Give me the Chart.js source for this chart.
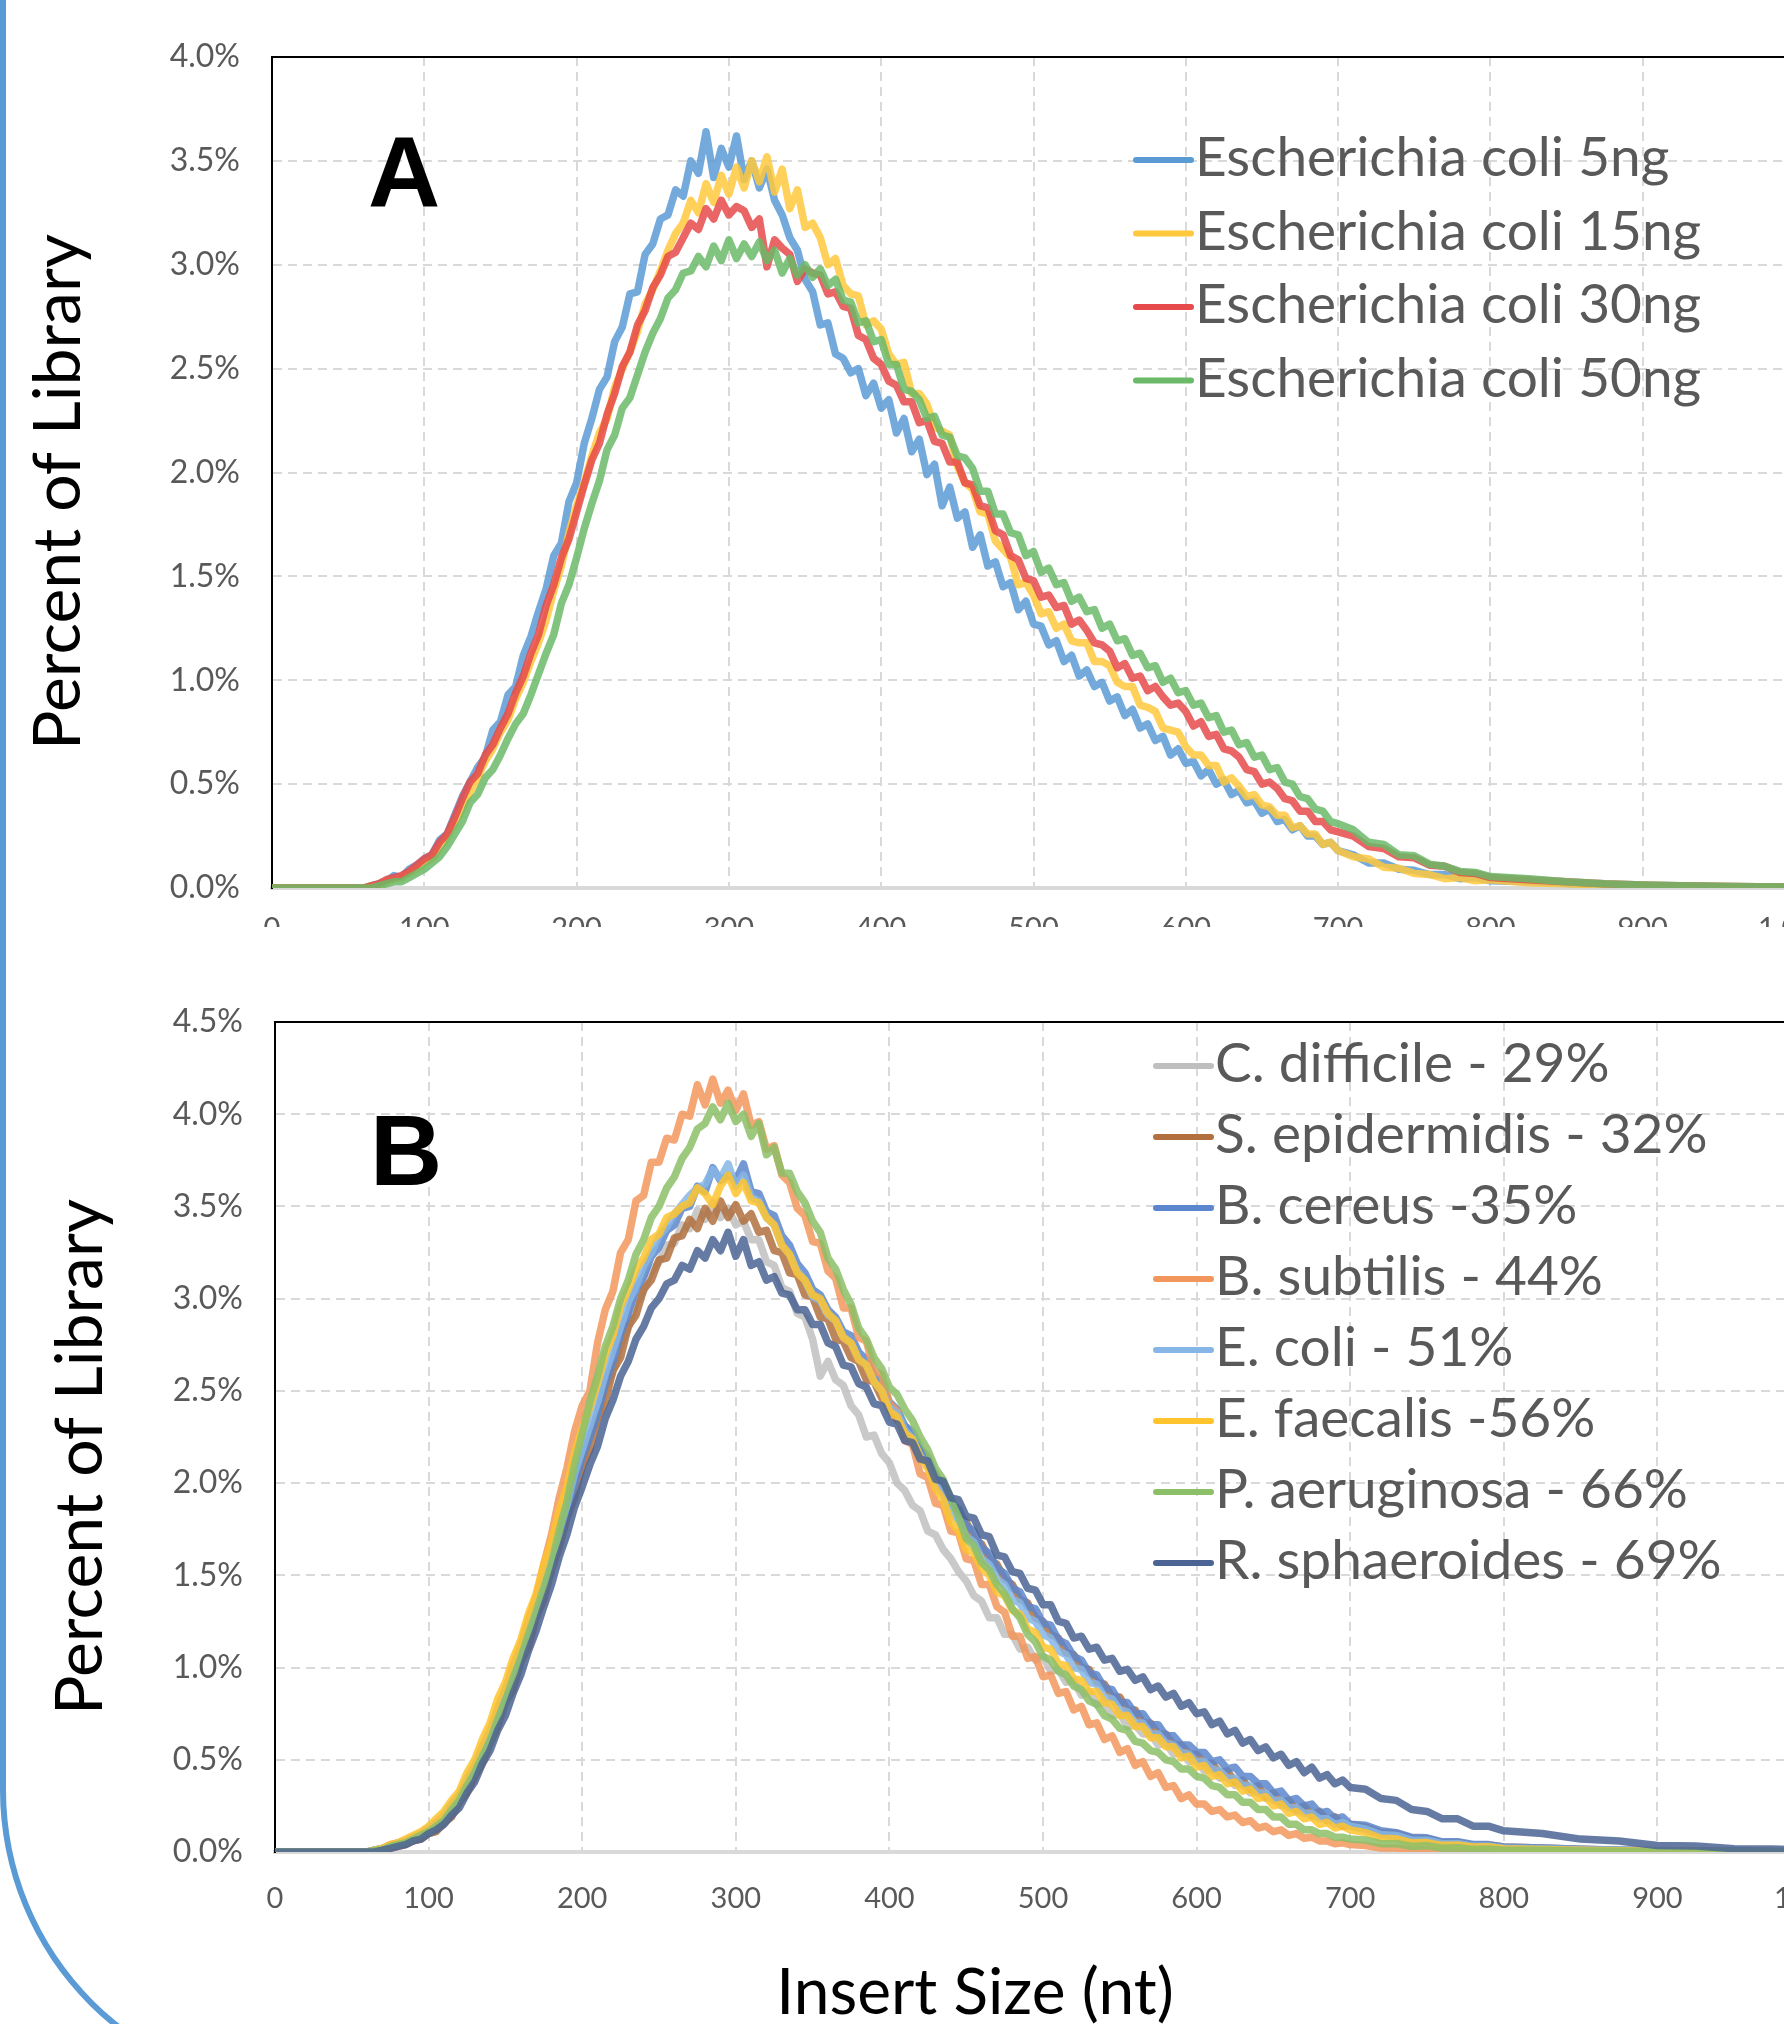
<!DOCTYPE html>
<html>
<head>
<meta charset="utf-8">
<title>Insert size distributions</title>
<script src="https://cdn.jsdelivr.net/npm/chart.js@4.4.1/dist/chart.umd.min.js"></script>
<style>
  html, body { margin: 0; padding: 0; width: 1784px; height: 2024px; overflow: hidden; background: #fff; }
  #frame {
    position: absolute; left: 0; top: -200px; width: 2300px; height: 2294px;
    box-sizing: border-box; border-left: 6px solid #5b9bd5; border-bottom: 6px solid #5b9bd5;
    border-bottom-left-radius: 304px;
  }
  #wrapA { position: absolute; left: 0; top: 0; width: 1900px; height: 927px; overflow: hidden; }
  #chartA { position: absolute; left: 0; top: 0; }
  #chartB { position: absolute; left: 0; top: 940px; }
</style>
</head>
<body>
<div id="frame"></div>
<div id="wrapA"><canvas id="chartA" width="1900" height="1000"></canvas></div>
<canvas id="chartB" width="1900" height="1084"></canvas>

<script>
// ============================================
// Insert size (nt) vs percent of library
// ============================================

// Shared x values (insert size, nt)
const insertSize = [
  0, 55,
  60, 65, 70, 75, 80, 85, 90, 95, 100, 105,
  110, 115, 120, 125, 130, 135, 140, 145, 150, 155,
  160, 165, 170, 175, 180, 185, 190, 195, 200, 205,
  210, 215, 220, 225, 230, 235, 240, 245, 250, 255,
  260, 265, 270, 275, 280, 285, 290, 295, 300, 305,
  310, 315, 320, 325, 330, 335, 340, 345, 350, 355,
  360, 365, 370, 375, 380, 385, 390, 395, 400, 405,
  410, 415, 420, 425, 430, 435, 440, 445, 450, 455,
  460, 465, 470, 475, 480, 485, 490, 495, 500, 505,
  510, 515, 520, 525, 530, 535, 540, 545, 550, 555,
  560, 565, 570, 575, 580, 585, 590, 595, 600, 605,
  610, 615, 620, 625, 630, 635, 640, 645, 650, 655,
  660, 665, 670, 675, 680, 685, 690, 695, 700,
  710, 720, 730, 740, 750, 760, 770, 780, 790, 800,
  825, 850, 875, 900, 925, 950, 975, 1000
];

// ---- Panel A: E. coli input amounts ----
const ecoliLabels = ['Escherichia coli 5ng', 'Escherichia coli 15ng', 'Escherichia coli 30ng', 'Escherichia coli 50ng'];

const coli5ng = [
  0, 0,
  0.00, 0.01, 0.02, 0.03, 0.06, 0.05, 0.09, 0.11, 0.14, 0.16,
  0.23, 0.26, 0.35, 0.44, 0.51, 0.58, 0.63, 0.76, 0.80, 0.93,
  0.97, 1.12, 1.21, 1.33, 1.44, 1.60, 1.66, 1.86, 1.95, 2.14,
  2.26, 2.40, 2.46, 2.63, 2.70, 2.86, 2.87, 3.05, 3.10, 3.22,
  3.24, 3.36, 3.33, 3.50, 3.44, 3.64, 3.42, 3.56, 3.47, 3.62,
  3.41, 3.50, 3.37, 3.46, 3.31, 3.24, 3.13, 3.07, 2.93, 2.87,
  2.71, 2.72, 2.57, 2.55, 2.48, 2.50, 2.37, 2.43, 2.31, 2.35,
  2.19, 2.26, 2.10, 2.16, 1.99, 2.04, 1.84, 1.93, 1.78, 1.81,
  1.64, 1.70, 1.55, 1.57, 1.45, 1.47, 1.34, 1.38, 1.27, 1.26,
  1.17, 1.19, 1.09, 1.12, 1.02, 1.05, 0.97, 0.99, 0.90, 0.92,
  0.83, 0.86, 0.77, 0.79, 0.71, 0.73, 0.64, 0.67, 0.60, 0.61,
  0.54, 0.57, 0.50, 0.52, 0.45, 0.47, 0.41, 0.42, 0.36, 0.38,
  0.32, 0.33, 0.28, 0.30, 0.25, 0.25, 0.21, 0.22, 0.18,
  0.16, 0.12, 0.12, 0.09, 0.085, 0.065, 0.065, 0.045, 0.05, 0.035,
  0.03, 0.022, 0.015, 0.01, 0.008, 0.006, 0.005, 0.004
];

const coli15ng = [
  0, 0,
  0.00, 0.01, 0.01, 0.03, 0.04, 0.05, 0.07, 0.09, 0.12, 0.14,
  0.19, 0.24, 0.31, 0.38, 0.46, 0.53, 0.61, 0.67, 0.75, 0.81,
  0.91, 0.99, 1.09, 1.18, 1.29, 1.43, 1.55, 1.71, 1.84, 1.95,
  2.08, 2.19, 2.26, 2.41, 2.50, 2.58, 2.68, 2.81, 2.88, 2.97,
  3.07, 3.15, 3.20, 3.31, 3.25, 3.39, 3.30, 3.43, 3.34, 3.47,
  3.37, 3.50, 3.40, 3.52, 3.35, 3.46, 3.27, 3.36, 3.18, 3.20,
  3.13, 3.00, 3.03, 2.90, 2.86, 2.85, 2.71, 2.73, 2.69, 2.57,
  2.52, 2.53, 2.38, 2.38, 2.33, 2.22, 2.20, 2.18, 2.03, 1.95,
  1.92, 1.81, 1.80, 1.67, 1.63, 1.59, 1.46, 1.47, 1.41, 1.32,
  1.33, 1.25, 1.27, 1.19, 1.18, 1.18, 1.09, 1.09, 1.07, 0.99,
  0.97, 0.97, 0.88, 0.87, 0.85, 0.77, 0.76, 0.75, 0.68, 0.64,
  0.64, 0.59, 0.59, 0.51, 0.53, 0.49, 0.44, 0.45, 0.40, 0.39,
  0.35, 0.35, 0.29, 0.30, 0.26, 0.26, 0.21, 0.22, 0.18,
  0.15, 0.14, 0.10, 0.095, 0.07, 0.065, 0.045, 0.05, 0.035, 0.04,
  0.025, 0.02, 0.014, 0.01, 0.008, 0.006, 0.005, 0.004
];

const coli30ng = [
  0, 0,
  0.00, 0.01, 0.02, 0.04, 0.05, 0.06, 0.08, 0.11, 0.14, 0.16,
  0.22, 0.26, 0.34, 0.43, 0.51, 0.55, 0.64, 0.69, 0.77, 0.84,
  0.94, 1.02, 1.13, 1.22, 1.36, 1.46, 1.59, 1.68, 1.81, 1.94,
  2.06, 2.14, 2.28, 2.38, 2.51, 2.58, 2.71, 2.78, 2.89, 2.95,
  3.04, 3.06, 3.13, 3.20, 3.17, 3.27, 3.22, 3.31, 3.24, 3.28,
  3.26, 3.18, 3.22, 2.99, 3.12, 3.08, 3.05, 2.92, 2.98, 2.96,
  2.95, 2.86, 2.87, 2.80, 2.79, 2.66, 2.64, 2.55, 2.52, 2.44,
  2.42, 2.34, 2.34, 2.24, 2.25, 2.15, 2.14, 2.05, 2.05, 1.95,
  1.94, 1.84, 1.83, 1.72, 1.70, 1.60, 1.58, 1.49, 1.48, 1.40,
  1.41, 1.35, 1.36, 1.27, 1.29, 1.24, 1.18, 1.17, 1.14, 1.06,
  1.08, 1.01, 1.02, 0.95, 0.97, 0.92, 0.88, 0.89, 0.85, 0.78,
  0.80, 0.73, 0.74, 0.67, 0.66, 0.63, 0.57, 0.56, 0.50, 0.51,
  0.48, 0.43, 0.42, 0.37, 0.37, 0.32, 0.32, 0.28, 0.27,
  0.25, 0.20, 0.19, 0.15, 0.145, 0.11, 0.105, 0.075, 0.07, 0.05,
  0.04, 0.03, 0.02, 0.015, 0.011, 0.008, 0.006, 0.005
];

const coli50ng = [
  0, 0,
  0.00, 0.00, 0.01, 0.02, 0.03, 0.03, 0.05, 0.07, 0.09, 0.12,
  0.15, 0.20, 0.26, 0.32, 0.41, 0.45, 0.53, 0.57, 0.64, 0.72,
  0.79, 0.84, 0.93, 1.03, 1.13, 1.22, 1.37, 1.46, 1.59, 1.73,
  1.85, 1.96, 2.11, 2.18, 2.31, 2.36, 2.47, 2.58, 2.67, 2.74,
  2.84, 2.88, 2.96, 2.97, 3.04, 2.99, 3.09, 3.02, 3.12, 3.03,
  3.10, 3.04, 3.11, 3.02, 3.07, 2.96, 3.03, 2.95, 3.00, 2.94,
  2.98, 2.90, 2.93, 2.83, 2.82, 2.72, 2.73, 2.63, 2.64, 2.52,
  2.52, 2.40, 2.39, 2.35, 2.26, 2.27, 2.18, 2.17, 2.08, 2.07,
  2.02, 1.91, 1.91, 1.80, 1.80, 1.71, 1.70, 1.60, 1.62, 1.52,
  1.54, 1.46, 1.47, 1.38, 1.40, 1.33, 1.34, 1.25, 1.27, 1.19,
  1.20, 1.12, 1.13, 1.06, 1.07, 0.99, 1.01, 0.94, 0.95, 0.88,
  0.89, 0.82, 0.83, 0.75, 0.76, 0.69, 0.70, 0.63, 0.64, 0.57,
  0.58, 0.51, 0.50, 0.44, 0.43, 0.38, 0.37, 0.32, 0.31,
  0.28, 0.22, 0.21, 0.16, 0.155, 0.115, 0.105, 0.08, 0.075, 0.055,
  0.045, 0.03, 0.02, 0.015, 0.011, 0.008, 0.006, 0.005
];

// ---- Panel B: species by GC content ----
const speciesLabels = [
  'C. difficile - 29%', 'S. epidermidis - 32%', 'B. cereus -35%', 'B. subtilis - 44%',
  'E. coli - 51%', 'E. faecalis -56%', 'P. aeruginosa - 66%', 'R. sphaeroides - 69%'
];

const cDifficile = [
  0, 0,
  0.00, 0.01, 0.01, 0.03, 0.04, 0.05, 0.07, 0.08, 0.11, 0.14,
  0.18, 0.23, 0.27, 0.36, 0.41, 0.53, 0.59, 0.72, 0.81, 0.94,
  1.03, 1.17, 1.27, 1.44, 1.52, 1.71, 1.80, 1.99, 2.08, 2.26,
  2.34, 2.52, 2.60, 2.75, 2.84, 2.98, 3.04, 3.15, 3.20, 3.29,
  3.30, 3.40, 3.38, 3.48, 3.43, 3.52, 3.44, 3.49, 3.40, 3.42,
  3.32, 3.32, 3.20, 3.18, 3.06, 3.04, 2.92, 2.90, 2.78, 2.58,
  2.66, 2.56, 2.53, 2.42, 2.37, 2.25, 2.26, 2.16, 2.11, 2.00,
  1.96, 1.88, 1.85, 1.74, 1.72, 1.64, 1.59, 1.52, 1.47, 1.39,
  1.36, 1.27, 1.27, 1.18, 1.18, 1.10, 1.11, 1.04, 1.06, 0.98,
  0.99, 0.92, 0.93, 0.85, 0.87, 0.80, 0.81, 0.74, 0.75, 0.68,
  0.69, 0.64, 0.64, 0.58, 0.59, 0.53, 0.54, 0.49, 0.50, 0.44,
  0.45, 0.40, 0.41, 0.36, 0.37, 0.32, 0.33, 0.29, 0.30, 0.25,
  0.26, 0.22, 0.23, 0.19, 0.20, 0.17, 0.17, 0.14, 0.14,
  0.12, 0.09, 0.085, 0.06, 0.06, 0.04, 0.042, 0.027, 0.028, 0.018,
  0.014, 0.01, 0.007, 0.005, 0.004, 0.003, 0.002, 0.002
];

const sEpidermidis = [
  0, 0,
  0.00, 0.00, 0.01, 0.02, 0.03, 0.04, 0.06, 0.07, 0.10, 0.11,
  0.16, 0.19, 0.27, 0.32, 0.41, 0.48, 0.59, 0.68, 0.81, 0.88,
  1.03, 1.11, 1.27, 1.37, 1.53, 1.65, 1.81, 1.92, 2.09, 2.18,
  2.35, 2.44, 2.61, 2.68, 2.85, 2.91, 3.05, 3.10, 3.21, 3.22,
  3.33, 3.34, 3.43, 3.38, 3.49, 3.42, 3.53, 3.44, 3.51, 3.42,
  3.46, 3.36, 3.37, 3.26, 3.25, 3.14, 3.13, 3.02, 3.01, 2.90,
  2.89, 2.78, 2.77, 2.68, 2.66, 2.56, 2.55, 2.46, 2.43, 2.34,
  2.31, 2.23, 2.19, 2.10, 2.05, 1.96, 1.91, 1.83, 1.79, 1.70,
  1.67, 1.59, 1.56, 1.48, 1.45, 1.37, 1.35, 1.27, 1.25, 1.18,
  1.16, 1.08, 1.07, 1.00, 0.99, 0.92, 0.91, 0.84, 0.84, 0.77,
  0.77, 0.70, 0.70, 0.64, 0.64, 0.58, 0.58, 0.53, 0.53, 0.48,
  0.48, 0.43, 0.44, 0.38, 0.39, 0.34, 0.36, 0.30, 0.32, 0.27,
  0.28, 0.23, 0.25, 0.20, 0.22, 0.17, 0.19, 0.14, 0.15,
  0.135, 0.105, 0.10, 0.075, 0.072, 0.05, 0.052, 0.036, 0.038, 0.027,
  0.022, 0.015, 0.01, 0.007, 0.005, 0.004, 0.003, 0.002
];

const bCereus = [
  0, 0,
  0.00, 0.01, 0.02, 0.03, 0.04, 0.05, 0.07, 0.09, 0.12, 0.15,
  0.19, 0.24, 0.29, 0.38, 0.44, 0.55, 0.62, 0.75, 0.84, 0.94,
  1.06, 1.18, 1.30, 1.45, 1.56, 1.72, 1.84, 1.99, 2.14, 2.25,
  2.38, 2.54, 2.66, 2.81, 2.92, 3.05, 3.12, 3.23, 3.28, 3.37,
  3.40, 3.49, 3.50, 3.61, 3.58, 3.71, 3.64, 3.67, 3.64, 3.73,
  3.58, 3.57, 3.47, 3.45, 3.34, 3.29, 3.19, 3.14, 3.05, 3.02,
  2.94, 2.90, 2.82, 2.80, 2.71, 2.67, 2.59, 2.54, 2.44, 2.40,
  2.31, 2.28, 2.19, 2.14, 2.04, 1.99, 1.89, 1.86, 1.77, 1.74,
  1.65, 1.62, 1.54, 1.51, 1.43, 1.41, 1.33, 1.32, 1.24, 1.23,
  1.15, 1.13, 1.06, 1.04, 0.97, 0.96, 0.89, 0.88, 0.81, 0.81,
  0.75, 0.75, 0.69, 0.69, 0.63, 0.63, 0.58, 0.58, 0.54, 0.54,
  0.49, 0.50, 0.45, 0.46, 0.41, 0.41, 0.37, 0.37, 0.32, 0.33,
  0.28, 0.29, 0.25, 0.26, 0.21, 0.22, 0.18, 0.19, 0.15,
  0.145, 0.115, 0.105, 0.08, 0.077, 0.055, 0.056, 0.041, 0.04, 0.027,
  0.022, 0.015, 0.011, 0.008, 0.006, 0.004, 0.003, 0.002
];

const bSubtilis = [
  0, 0,
  0.00, 0.01, 0.02, 0.04, 0.05, 0.06, 0.08, 0.10, 0.12, 0.16,
  0.19, 0.25, 0.30, 0.39, 0.46, 0.57, 0.65, 0.78, 0.88, 1.01,
  1.12, 1.26, 1.38, 1.56, 1.72, 1.92, 2.08, 2.28, 2.42, 2.50,
  2.76, 2.94, 3.04, 3.25, 3.32, 3.53, 3.56, 3.74, 3.74, 3.87,
  3.86, 4.00, 3.99, 4.16, 4.05, 4.19, 4.06, 4.13, 4.02, 4.11,
  3.94, 3.96, 3.81, 3.83, 3.67, 3.63, 3.49, 3.45, 3.31, 3.30,
  3.15, 3.11, 2.95, 2.95, 2.79, 2.77, 2.61, 2.59, 2.43, 2.39,
  2.23, 2.21, 2.05, 2.03, 1.89, 1.88, 1.74, 1.73, 1.59, 1.58,
  1.45, 1.45, 1.33, 1.30, 1.17, 1.17, 1.05, 1.06, 0.95, 0.96,
  0.86, 0.87, 0.77, 0.79, 0.69, 0.70, 0.61, 0.63, 0.54, 0.56,
  0.47, 0.49, 0.41, 0.43, 0.35, 0.36, 0.29, 0.31, 0.26, 0.26,
  0.22, 0.23, 0.19, 0.20, 0.16, 0.17, 0.13, 0.14, 0.11, 0.12,
  0.09, 0.10, 0.075, 0.08, 0.06, 0.06, 0.045, 0.05, 0.04,
  0.035, 0.022, 0.022, 0.013, 0.013, 0.008, 0.009, 0.005, 0.006, 0.003,
  0.003, 0.002, 0.002, 0.001, 0.001, 0.001, 0, 0
];

const eColi = [
  0, 0,
  0.00, 0.01, 0.02, 0.03, 0.05, 0.06, 0.08, 0.10, 0.13, 0.16,
  0.20, 0.26, 0.31, 0.40, 0.47, 0.57, 0.66, 0.77, 0.88, 0.99,
  1.10, 1.22, 1.34, 1.48, 1.60, 1.75, 1.88, 2.05, 2.18, 2.31,
  2.44, 2.59, 2.72, 2.85, 2.98, 3.07, 3.18, 3.25, 3.34, 3.39,
  3.46, 3.51, 3.56, 3.60, 3.62, 3.70, 3.65, 3.73, 3.61, 3.67,
  3.55, 3.53, 3.44, 3.40, 3.29, 3.24, 3.15, 3.10, 3.01, 2.99,
  2.91, 2.88, 2.79, 2.76, 2.67, 2.64, 2.55, 2.50, 2.41, 2.38,
  2.29, 2.24, 2.15, 2.10, 1.99, 1.94, 1.84, 1.80, 1.71, 1.68,
  1.59, 1.56, 1.48, 1.45, 1.37, 1.35, 1.27, 1.25, 1.18, 1.16,
  1.09, 1.07, 1.00, 0.99, 0.92, 0.91, 0.84, 0.83, 0.77, 0.76,
  0.70, 0.70, 0.64, 0.64, 0.59, 0.58, 0.54, 0.53, 0.49, 0.49,
  0.45, 0.44, 0.40, 0.40, 0.36, 0.36, 0.32, 0.32, 0.28, 0.28,
  0.24, 0.24, 0.21, 0.21, 0.18, 0.18, 0.15, 0.16, 0.14,
  0.125, 0.095, 0.09, 0.065, 0.064, 0.045, 0.046, 0.032, 0.033, 0.022,
  0.018, 0.012, 0.009, 0.006, 0.004, 0.003, 0.002, 0.002
];

const eFaecalis = [
  0, 0,
  0.00, 0.01, 0.02, 0.04, 0.05, 0.07, 0.09, 0.11, 0.14, 0.18,
  0.22, 0.28, 0.33, 0.43, 0.50, 0.61, 0.70, 0.83, 0.92, 1.05,
  1.15, 1.29, 1.40, 1.56, 1.68, 1.85, 1.98, 2.16, 2.30, 2.41,
  2.54, 2.70, 2.80, 2.96, 3.05, 3.16, 3.22, 3.32, 3.35, 3.44,
  3.46, 3.50, 3.52, 3.60, 3.57, 3.51, 3.61, 3.67, 3.57, 3.63,
  3.53, 3.52, 3.44, 3.40, 3.29, 3.24, 3.14, 3.10, 3.02, 3.00,
  2.92, 2.88, 2.79, 2.76, 2.67, 2.64, 2.55, 2.50, 2.39, 2.36,
  2.27, 2.24, 2.14, 2.08, 1.97, 1.91, 1.79, 1.74, 1.64, 1.62,
  1.54, 1.50, 1.41, 1.39, 1.31, 1.29, 1.21, 1.19, 1.11, 1.10,
  1.02, 1.01, 0.94, 0.93, 0.87, 0.87, 0.81, 0.80, 0.74, 0.74,
  0.68, 0.68, 0.62, 0.62, 0.57, 0.57, 0.51, 0.52, 0.46, 0.47,
  0.41, 0.42, 0.37, 0.38, 0.33, 0.34, 0.29, 0.30, 0.25, 0.26,
  0.21, 0.22, 0.18, 0.19, 0.15, 0.16, 0.13, 0.14, 0.12,
  0.105, 0.075, 0.072, 0.05, 0.051, 0.036, 0.038, 0.027, 0.028, 0.018,
  0.014, 0.01, 0.007, 0.005, 0.004, 0.003, 0.002, 0.002
];

const pAeruginosa = [
  0, 0,
  0.00, 0.01, 0.01, 0.03, 0.04, 0.05, 0.07, 0.09, 0.11, 0.14,
  0.17, 0.23, 0.28, 0.36, 0.43, 0.52, 0.60, 0.72, 0.82, 0.94,
  1.05, 1.18, 1.30, 1.43, 1.56, 1.74, 1.90, 2.10, 2.27, 2.44,
  2.58, 2.74, 2.85, 3.00, 3.10, 3.24, 3.32, 3.44, 3.50, 3.60,
  3.66, 3.76, 3.82, 3.92, 3.95, 4.04, 3.97, 4.06, 3.96, 4.00,
  3.88, 3.95, 3.78, 3.82, 3.68, 3.68, 3.58, 3.52, 3.42, 3.36,
  3.22, 3.16, 3.05, 2.97, 2.84, 2.78, 2.68, 2.62, 2.52, 2.48,
  2.40, 2.34, 2.25, 2.18, 2.08, 2.02, 1.92, 1.82, 1.70, 1.66,
  1.57, 1.53, 1.45, 1.40, 1.32, 1.27, 1.18, 1.14, 1.06, 1.04,
  0.98, 0.96, 0.90, 0.88, 0.82, 0.80, 0.74, 0.72, 0.67, 0.66,
  0.60, 0.59, 0.55, 0.54, 0.50, 0.49, 0.45, 0.45, 0.41, 0.40,
  0.36, 0.35, 0.31, 0.31, 0.27, 0.27, 0.23, 0.23, 0.19, 0.19,
  0.15, 0.15, 0.12, 0.12, 0.10, 0.10, 0.08, 0.08, 0.07,
  0.065, 0.045, 0.046, 0.03, 0.034, 0.021, 0.023, 0.014, 0.016, 0.01,
  0.009, 0.006, 0.004, 0.003, 0.002, 0.002, 0.001, 0.001
];

const rSphaeroides = [
  0, 0,
  0.00, 0.00, 0.01, 0.02, 0.03, 0.04, 0.06, 0.07, 0.10, 0.12,
  0.15, 0.20, 0.24, 0.32, 0.38, 0.48, 0.55, 0.66, 0.74, 0.86,
  0.96, 1.09, 1.20, 1.33, 1.45, 1.60, 1.72, 1.87, 1.98, 2.10,
  2.20, 2.35, 2.45, 2.58, 2.66, 2.78, 2.85, 2.95, 3.00, 3.08,
  3.10, 3.18, 3.16, 3.26, 3.22, 3.32, 3.26, 3.36, 3.23, 3.32,
  3.18, 3.20, 3.10, 3.12, 3.03, 3.02, 2.94, 2.94, 2.86, 2.86,
  2.76, 2.74, 2.64, 2.63, 2.54, 2.52, 2.43, 2.42, 2.33, 2.32,
  2.23, 2.22, 2.13, 2.12, 2.02, 2.01, 1.92, 1.91, 1.82, 1.81,
  1.72, 1.71, 1.61, 1.60, 1.52, 1.51, 1.43, 1.42, 1.34, 1.34,
  1.25, 1.24, 1.16, 1.17, 1.10, 1.11, 1.04, 1.05, 0.98, 0.99,
  0.93, 0.95, 0.88, 0.90, 0.84, 0.86, 0.79, 0.81, 0.75, 0.76,
  0.69, 0.71, 0.64, 0.66, 0.59, 0.61, 0.55, 0.57, 0.51, 0.53,
  0.47, 0.49, 0.43, 0.46, 0.40, 0.42, 0.37, 0.39, 0.35,
  0.34, 0.29, 0.28, 0.23, 0.22, 0.18, 0.18, 0.14, 0.14, 0.115,
  0.10, 0.07, 0.06, 0.035, 0.032, 0.018, 0.016, 0.01
];

const ecoliSeries = [coli5ng, coli15ng, coli30ng, coli50ng];
const ecoliColors = ['#5b9bd5', '#ffc83d', '#e64a4a', '#6bba69'];

const speciesSeries = [cDifficile, sEpidermidis, bCereus, bSubtilis, eColi, eFaecalis, pAeruginosa, rSphaeroides];
const speciesColors = ['#bfbfbf', '#b2703e', '#5a86cd', '#f2975c', '#86b6e5', '#ffc42e', '#8cc068', '#4b6493'];

// Chart defaults
Chart.defaults.font.family = "Lato, 'Open Sans', sans-serif";
Chart.defaults.color = '#595959';

function toPoints(values) {
  return insertSize.map((x, i) => ({ x: x, y: values[i] }));
}

function hexAlpha(hex, a) {
  const n = parseInt(hex.slice(1), 16);
  return 'rgba(' + (n >> 16) + ',' + ((n >> 8) & 255) + ',' + (n & 255) + ',' + a + ')';
}

// Panel letter, frame top, y title, x title and in-plot legend
const panelDecor = {
  id: 'panelDecor',
  afterDraw(chart, args, o) {
    const ctx = chart.ctx;
    const a = chart.chartArea;
    ctx.save();

    ctx.strokeStyle = '#000';
    ctx.lineWidth = 2;
    ctx.beginPath();
    ctx.moveTo(a.left - 1, a.top);
    ctx.lineTo(a.right, a.top);
    ctx.stroke();

    ctx.fillStyle = '#000';
    ctx.textAlign = 'left';
    ctx.textBaseline = 'alphabetic';
    ctx.font = "bold 100px 'Liberation Sans', Arial, sans-serif";
    ctx.fillText(o.letter, o.letterX, o.letterY);

    ctx.save();
    ctx.translate(o.yTitleX, o.yTitleY);
    ctx.rotate(-Math.PI / 2);
    ctx.textAlign = 'center';
    ctx.font = "66px Lato, 'Open Sans', sans-serif";
    ctx.fillText('Percent of Library', 0, 0);
    ctx.restore();

    if (o.xTitle) {
      ctx.textAlign = 'center';
      ctx.font = "64px Lato, 'Open Sans', sans-serif";
      ctx.fillText(o.xTitle, o.xTitleX, o.xTitleY);
    }

    ctx.textAlign = 'left';
    ctx.lineCap = 'round';
    chart.data.datasets.forEach((ds, i) => {
      const y = o.legendY + i * o.legendStep;
      ctx.strokeStyle = ds.legendColor;
      ctx.lineWidth = 6;
      ctx.beginPath();
      ctx.moveTo(o.legendX, y);
      ctx.lineTo(o.legendX + 55, y);
      ctx.stroke();
      ctx.fillStyle = '#595959';
      ctx.font = "55px Lato, 'Open Sans', sans-serif";
      ctx.fillText(ds.label, o.legendX + 59, y + 16);
    });

    ctx.restore();
  }
};

function makeChart(canvasId, labels, series, colors, cfg) {
  const n = series.length;
  const datasets = series.map((values, i) => ({
    label: labels[i],
    data: toPoints(values),
    borderColor: hexAlpha(colors[i], 0.85),
    legendColor: colors[i],
    borderWidth: 7.5,
    pointRadius: 0,
    tension: 0,
    fill: false,
    borderJoinStyle: 'round',
    order: n - 1 - i
  }));

  return new Chart(document.getElementById(canvasId), {
    type: 'line',
    data: { datasets: datasets },
    options: {
      responsive: false,
      animation: false,
      devicePixelRatio: 1,
      events: [],
      layout: { padding: { left: 0, top: cfg.padTop, right: cfg.padRight, bottom: 0 } },
      plugins: {
        legend: { display: false },
        tooltip: { enabled: false },
        panelDecor: cfg.decor
      },
      scales: {
        x: {
          type: 'linear',
          min: 0,
          max: 1000,
          afterFit: s => { s.height = cfg.xHeight; },
          ticks: { stepSize: 100, autoSkip: false, maxRotation: 0, padding: cfg.xTickPad, font: { size: 29 } },
          grid: { color: '#d9d9d9', lineWidth: 2, drawTicks: false },
          border: { display: true, color: '#d9d9d9', width: 4, dash: [9, 6] }
        },
        y: {
          min: 0,
          max: cfg.yMax,
          afterFit: s => { s.width = cfg.yWidth; },
          ticks: { stepSize: 0.5, padding: 32, font: { size: 32 }, callback: v => v.toFixed(1) + '%' },
          grid: { color: '#d9d9d9', lineWidth: 2, drawTicks: false },
          border: { display: true, color: '#000', width: 2, dash: [9, 6] }
        }
      }
    },
    plugins: [panelDecor]
  });
}

makeChart('chartA', ecoliLabels, ecoliSeries, ecoliColors, {
  padTop: 57, padRight: 105, xHeight: 112, yWidth: 272, yMax: 4, xTickPad: 23,
  decor: {
    letter: 'A', letterX: 368, letterY: 207,
    yTitleX: 80, yTitleY: 492,
    legendX: 1136, legendY: 160, legendStep: 73.5
  }
});

makeChart('chartB', speciesLabels, speciesSeries, speciesColors, {
  padTop: 82, padRight: 89, xHeight: 172, yWidth: 275, yMax: 4.5, xTickPad: 29,
  decor: {
    letter: 'B', letterX: 370, letterY: 245,
    yTitleX: 102, yTitleY: 517,
    xTitle: 'Insert Size (nt)', xTitleX: 975, xTitleY: 1074,
    legendX: 1156, legendY: 126, legendStep: 71
  }
});
</script>
</body>
</html>
